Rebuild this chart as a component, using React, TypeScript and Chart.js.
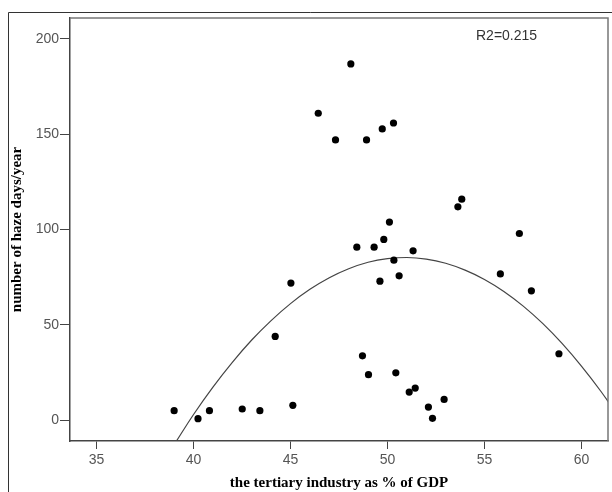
import React, { useEffect, useRef } from "react";
import { Chart, registerables } from "chart.js";

Chart.register(...registerables);

// Observed cities: tertiary industry share of GDP (%) and haze days per year
const TERTIARY_SHARE = [
  39.0, 40.23, 40.82, 42.51, 43.42, 44.21, 45.12, 45.02,
  46.43, 47.32, 48.11, 48.92, 49.73, 50.31,
  50.10, 49.81, 48.42, 49.31, 51.32, 50.33, 50.60, 49.61,
  48.71, 49.02, 50.43, 51.12, 51.43, 52.11, 52.92, 52.32,
  53.83, 53.63, 56.80, 55.82, 57.42, 58.84,
];
const HAZE_DAYS = [
  4.9, 0.7, 4.9, 5.8, 4.9, 43.9, 7.7, 71.9,
  161.0, 147.0, 186.9, 147.0, 152.8, 155.9,
  103.9, 94.8, 90.7, 90.7, 88.8, 83.9, 75.7, 72.9,
  33.7, 23.8, 24.8, 14.7, 16.8, 6.8, 10.8, 0.9,
  115.9, 111.9, 97.9, 76.7, 67.8, 34.8,
];

// Quadratic fit line
const FIT_X = [39, 40, 41, 42, 43, 44, 45, 46, 47, 48, 49, 50, 51, 52, 53, 54, 55, 56, 57, 58, 59, 60, 61, 62];
const FIT_Y = [-12.9, 2.9, 17.3, 30.3, 42.0, 52.2, 61.1, 68.6, 74.7, 79.4, 82.8, 84.7, 85.3, 84.5, 82.3, 78.7, 73.8, 67.5, 59.8, 50.7, 40.2, 28.3, 15.1, 0.5];

const X_TICKS = [35, 40, 45, 50, 55, 60];
const Y_TICKS = [0, 50, 100, 150, 200];
const X_RANGE = [33.63, 61.37];
const Y_RANGE = [-11, 211];

const R2_LABEL = "R2=0.215";
const X_TITLE = "the tertiary industry as % of GDP";
const Y_TITLE = "number of haze days/year";

const framePlugin = {
  id: "frame",
  beforeDraw(chart: any) {
    const ctx = chart.ctx;
    ctx.save();
    ctx.fillStyle = "#ffffff";
    ctx.fillRect(0, 0, chart.width, chart.height);
    ctx.strokeStyle = "#333333";
    ctx.lineWidth = 1;
    ctx.beginPath();
    ctx.moveTo(8.5, chart.height);
    ctx.lineTo(8.5, 12.5);
    ctx.lineTo(chart.width, 12.5);
    ctx.stroke();
    ctx.restore();
  },
  afterDraw(chart: any) {
    const { ctx, chartArea } = chart;
    ctx.save();
    ctx.strokeStyle = "#777777";
    ctx.lineWidth = 1.5;
    ctx.beginPath();
    ctx.moveTo(chartArea.left, chartArea.top);
    ctx.lineTo(chartArea.right, chartArea.top);
    ctx.lineTo(chartArea.right, chartArea.bottom);
    ctx.stroke();
    ctx.fillStyle = "#333333";
    ctx.font = "14px 'Liberation Sans', Arial, sans-serif";
    ctx.textAlign = "left";
    ctx.textBaseline = "middle";
    ctx.fillText(R2_LABEL, 476, 36);
    ctx.restore();
  },
};

export default function App() {
  const ref = useRef<HTMLCanvasElement | null>(null);

  useEffect(() => {
    if (!ref.current) return;
    const points = TERTIARY_SHARE.map((x, i) => ({ x, y: HAZE_DAYS[i] }));
    const fit = FIT_X.map((x, i) => ({ x, y: FIT_Y[i] }));
    const tickFont = { family: "'Liberation Sans', Arial, sans-serif", size: 14 };
    const titleFont = { family: "'Liberation Serif', 'Times New Roman', serif", size: 15, weight: "bold" as const };

    const chart = new Chart(ref.current, {
      type: "scatter",
      data: {
        datasets: [
          {
            label: "fit",
            data: fit,
            showLine: true,
            pointRadius: 0,
            borderColor: "#444444",
            borderWidth: 1.2,
            cubicInterpolationMode: "monotone",
            order: 2,
          },
          {
            label: "cities",
            data: points,
            pointRadius: 3.6,
            pointBackgroundColor: "#000000",
            pointBorderColor: "#000000",
            pointBorderWidth: 0,
            order: 1,
          },
        ],
      },
      options: {
        responsive: false,
        animation: false,
        layout: { padding: { left: 0, top: 18, right: 4, bottom: 0 } },
        plugins: { legend: { display: false }, tooltip: { enabled: false } },
        scales: {
          x: {
            type: "linear",
            min: X_RANGE[0],
            max: X_RANGE[1],
            afterBuildTicks: (s: any) => {
              s.ticks = X_TICKS.map((v) => ({ value: v }));
            },
            afterFit: (s: any) => {
              s.height = 51;
            },
            grid: { drawOnChartArea: false, drawTicks: true, tickLength: 8, color: "#444444", lineWidth: 1 },
            border: { display: true, color: "#444444", width: 1.5 },
            ticks: { padding: 3, color: "#555555", font: tickFont, autoSkip: false, maxRotation: 0 },
            title: { display: true, text: X_TITLE, color: "#000000", font: titleFont, padding: { top: 0, bottom: 0 } },
          },
          y: {
            type: "linear",
            min: Y_RANGE[0],
            max: Y_RANGE[1],
            afterBuildTicks: (s: any) => {
              s.ticks = Y_TICKS.map((v) => ({ value: v }));
            },
            afterFit: (s: any) => {
              s.width = 70;
            },
            grid: { drawOnChartArea: false, drawTicks: true, tickLength: 10, color: "#444444", lineWidth: 1 },
            border: { display: true, color: "#444444", width: 1.5 },
            ticks: { padding: 1, color: "#555555", font: tickFont, autoSkip: false },
            title: { display: true, text: Y_TITLE, color: "#000000", font: titleFont, padding: { top: 8, bottom: 0 } },
          },
        },
      },
      plugins: [framePlugin],
    });
    return () => chart.destroy();
  }, []);

  return (
    <div style={{ position: "absolute", left: 0, top: 0, width: 612, height: 492 }}>
      <canvas ref={ref} width={612} height={492} style={{ width: 612, height: 492, display: "block" }} />
    </div>
  );
}
